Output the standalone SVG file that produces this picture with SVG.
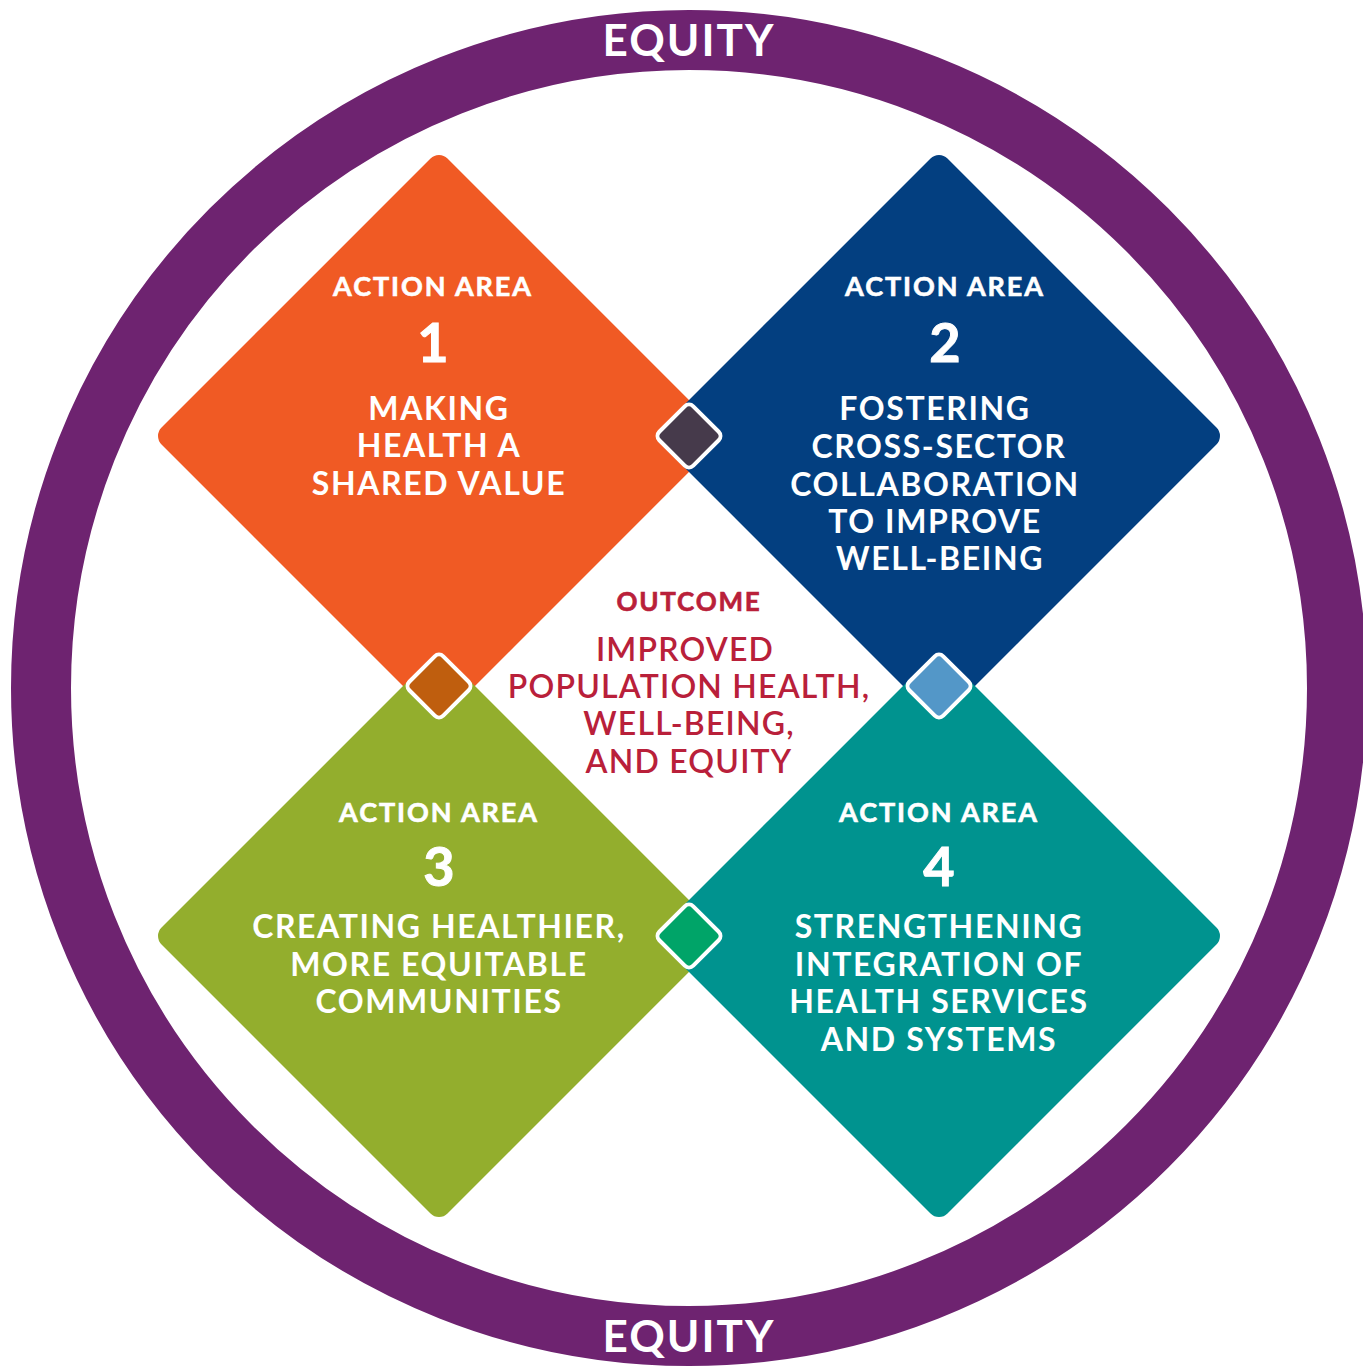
<svg xmlns="http://www.w3.org/2000/svg" width="1363" height="1366" viewBox="0 0 1363 1366">
<style>
.t{font-family:Lato,"Open Sans","Liberation Sans",sans-serif;fill:#fff;text-anchor:middle}
.hd{font-size:27px;font-weight:700;letter-spacing:1.9px;stroke:#fff;stroke-width:0.6px}
.num{font-size:54px;font-weight:700;stroke:#fff;stroke-width:1px}
.bd{font-size:32px;font-weight:700;letter-spacing:1.6px}
.oc{font-family:Lato,"Open Sans","Liberation Sans",sans-serif;fill:#B9203A;text-anchor:middle}
.eq{font-family:Lato,"Open Sans","Liberation Sans",sans-serif;fill:#fff;text-anchor:middle;font-size:44px;font-weight:700;letter-spacing:2px}
.sm{stroke:#fff;stroke-width:4}
</style>
<rect width="1363" height="1366" fill="#fff"/>
<g id="ring">
<circle cx="689" cy="688" r="648" fill="none" stroke="#6E2370" stroke-width="60"/>
<text class="eq" x="689" y="56">EQUITY</text>
<text class="eq" x="689" y="1352">EQUITY</text>
</g>
<g id="area1">
<rect x="236.8" y="233.8" width="404.4" height="404.4" rx="12" fill="#F05A24" transform="rotate(45 439 436)"/>
<text class="t hd" x="433" y="296">ACTION AREA</text>
<text class="t num" x="433" y="362">1</text>
<text class="t bd" x="439" y="420">MAKING</text>
<text class="t bd" x="439" y="457">HEALTH A</text>
<text class="t bd" x="439" y="495">SHARED VALUE</text>
</g>
<g id="area2">
<rect x="736.8" y="233.8" width="404.4" height="404.4" rx="12" fill="#033F80" transform="rotate(45 939 436)"/>
<text class="t hd" x="945" y="296">ACTION AREA</text>
<text class="t num" x="945" y="362">2</text>
<text class="t bd" x="935" y="420">FOSTERING</text>
<text class="t bd" x="939" y="458">CROSS-SECTOR</text>
<text class="t bd" x="935" y="496">COLLABORATION</text>
<text class="t bd" x="935" y="533">TO IMPROVE</text>
<text class="t bd" x="940" y="570">WELL-BEING</text>
</g>
<g id="area3">
<rect x="236.8" y="733.8" width="404.4" height="404.4" rx="12" fill="#93AE2D" transform="rotate(45 439 936)"/>
<text class="t hd" x="439" y="822">ACTION AREA</text>
<text class="t num" x="439" y="886">3</text>
<text class="t bd" x="439" y="938">CREATING HEALTHIER,</text>
<text class="t bd" x="439" y="976">MORE EQUITABLE</text>
<text class="t bd" x="439" y="1013">COMMUNITIES</text>
</g>
<g id="area4">
<rect x="736.8" y="733.8" width="404.4" height="404.4" rx="12" fill="#00938F" transform="rotate(45 939 936)"/>
<text class="t hd" x="939" y="822">ACTION AREA</text>
<text class="t num" x="939" y="886">4</text>
<text class="t bd" x="939" y="938">STRENGTHENING</text>
<text class="t bd" x="939" y="976">INTEGRATION OF</text>
<text class="t bd" x="939" y="1013">HEALTH SERVICES</text>
<text class="t bd" x="939" y="1051">AND SYSTEMS</text>
</g>
<g id="connectors">
<rect class="sm" x="665" y="412" width="48" height="48" rx="6" fill="#463A4B" transform="rotate(45 689 436)"/>
<rect class="sm" x="415" y="662" width="48" height="48" rx="6" fill="#BF5E0E" transform="rotate(45 439 686)"/>
<rect class="sm" x="915" y="662" width="48" height="48" rx="6" fill="#5397C8" transform="rotate(45 939 686)"/>
<rect class="sm" x="665" y="912" width="48" height="48" rx="6" fill="#00A468" transform="rotate(45 689 936)"/>
</g>
<g id="outcome">
<text class="oc" x="689" y="611" font-size="26" font-weight="700" letter-spacing="1.8" stroke="#B9203A" stroke-width="0.6">OUTCOME</text>
<text class="oc" x="685" y="661" font-size="32" font-weight="600" letter-spacing="1.2">IMPROVED</text>
<text class="oc" x="689" y="698" font-size="32" font-weight="600" letter-spacing="1.2">POPULATION HEALTH,</text>
<text class="oc" x="689" y="735" font-size="32" font-weight="600" letter-spacing="1.2">WELL-BEING,</text>
<text class="oc" x="689" y="773" font-size="32" font-weight="600" letter-spacing="1.2">AND EQUITY</text>
</g>
</svg>
